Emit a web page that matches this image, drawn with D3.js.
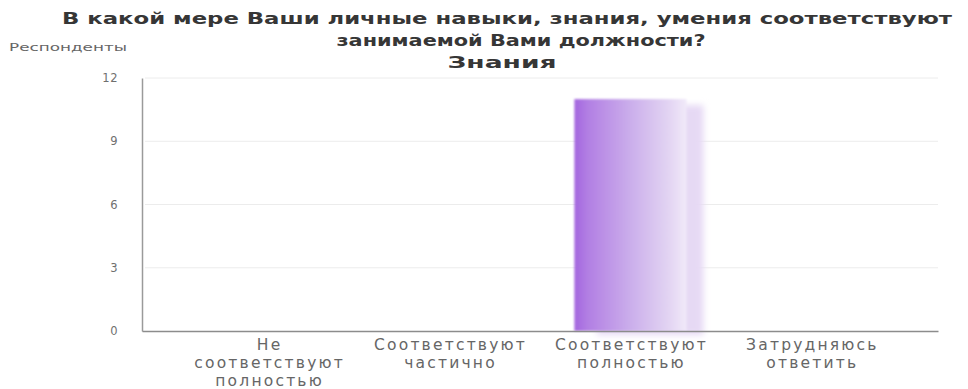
<!DOCTYPE html>
<html>
<head>
<meta charset="utf-8">
<script src="https://cdn.jsdelivr.net/npm/d3@7"></script>
<style>
  html, body { margin: 0; padding: 0; background: #fff; }
  svg { display: block; }
</style>
</head>
<body>
<svg id="chart" width="968" height="389"></svg>
<script>
// Survey answers: how well knowledge matches the current position
const categories = [
  ["Не", "соответствуют", "полностью"],
  ["Соответствуют", "частично"],
  ["Соответствуют", "полностью"],
  ["Затрудняюсь", "ответить"]
];
const values = [0, 0, 11, 0];
const yTicks = [0, 3, 6, 9, 12];
const titleLines = [
  "В какой мере Ваши личные навыки, знания, умения соответствуют",
  "занимаемой Вами должности?",
  "Знания"
];
const yAxisTitle = "Респонденты";

const svg = d3.select("#chart");
const margin = { left: 142, right: 30, top: 78, bottom: 58 };
const W = 968, H = 389;

const x = d3.scaleBand()
  .domain(d3.range(categories.length))
  .range([margin.left, W - margin.right])
  .paddingInner(0.38)
  .paddingOuter(0.39);

const y = d3.scaleLinear()
  .domain([0, 12])
  .range([H - margin.bottom, margin.top]);

const defs = svg.append("defs");
const grad = defs.append("linearGradient")
  .attr("id", "barGrad").attr("x1", "0").attr("x2", "1").attr("y1", "0").attr("y2", "0");
grad.append("stop").attr("offset", "0").attr("stop-color", "#a366df");
grad.append("stop").attr("offset", "0.12").attr("stop-color", "#b27fe3");
grad.append("stop").attr("offset", "0.5").attr("stop-color", "#cbaeeb");
grad.append("stop").attr("offset", "0.85").attr("stop-color", "#e3d5f3");
grad.append("stop").attr("offset", "1").attr("stop-color", "#f1eaf9");

const blur = defs.append("filter").attr("id", "soft")
  .attr("x", "-20%").attr("y", "-10%").attr("width", "140%").attr("height", "120%");
blur.append("feGaussianBlur").attr("stdDeviation", 3);

const blurSmall = defs.append("filter").attr("id", "edge")
  .attr("x", "-10%").attr("y", "-5%").attr("width", "120%").attr("height", "110%");
blurSmall.append("feGaussianBlur").attr("stdDeviation", 1.2);

// grid lines
svg.append("g")
  .selectAll("line")
  .data(yTicks.filter(d => d > 0))
  .join("line")
  .attr("x1", margin.left + 3)
  .attr("x2", W - margin.right)
  .attr("y1", d => y(d))
  .attr("y2", d => y(d))
  .attr("stroke", "#ececec")
  .attr("stroke-width", 1);

// y axis
const yAxis = d3.axisLeft(y).tickValues(yTicks).tickSize(0).tickPadding(24);
const gy = svg.append("g").attr("transform", `translate(${margin.left},0)`).call(yAxis);
gy.select(".domain").attr("stroke", "#9a9a9a").attr("stroke-width", 1.5);
gy.selectAll("text")
  .attr("fill", "#6f6f6f")
  .style("font-family", "'DejaVu Sans', sans-serif")
  .style("font-size", "11.5px")
  .style("letter-spacing", "0.5px");

// bar shadow
svg.append("g")
  .selectAll("rect")
  .data(values.map((v, i) => ({ v, i })).filter(d => d.v > 0))
  .join("rect")
  .attr("x", d => x(d.i) + x.bandwidth() * 0.2)
  .attr("y", d => y(d.v) + 6)
  .attr("width", x.bandwidth() * 0.95)
  .attr("height", d => y(0) - y(d.v) - 2)
  .attr("fill", "#e6d9f4")
  .attr("filter", "url(#soft)");

// bars
svg.append("g")
  .selectAll("rect")
  .data(values.map((v, i) => ({ v, i })).filter(d => d.v > 0))
  .join("rect")
  .attr("x", d => x(d.i))
  .attr("y", d => y(d.v))
  .attr("width", x.bandwidth())
  .attr("height", d => y(0) - y(d.v))
  .attr("fill", "url(#barGrad)")
  .attr("filter", "url(#edge)");

// x axis
const xAxis = d3.axisBottom(x).tickSize(0).tickFormat("");
const gx = svg.append("g").attr("transform", `translate(0,${y(0)})`).call(xAxis);
gx.select(".domain").attr("stroke", "#8c8c8c").attr("stroke-width", 1.5);

// category labels
const lab = svg.append("g")
  .style("font-family", "'DejaVu Sans', sans-serif")
  .style("font-size", "15.5px")
  .style("letter-spacing", "2.2px")
  .attr("fill", "#666");
categories.forEach((lines, i) => {
  const cx = x(i) + x.bandwidth() / 2 + 1;
  const t = lab.append("text")
    .attr("text-anchor", "middle")
    .attr("x", cx)
    .attr("y", y(0) + 19);
  lines.forEach((ln, k) => {
    t.append("tspan")
      .attr("x", cx)
      .attr("dy", k === 0 ? 0 : 18)
      .text(ln);
  });
});

// axis title
svg.append("text")
  .attr("x", 9).attr("y", 51)
  .style("font-family", "'DejaVu Sans', sans-serif")
  .style("font-size", "11px")
  .attr("fill", "#666")
  .attr("textLength", 118)
  .attr("lengthAdjust", "spacingAndGlyphs")
  .text(yAxisTitle);

// chart title
const titleWidths = [890, 369, 109];
const titleX = [507, 521, 502];
const titleY = [24, 46, 68];
const tg = svg.append("g")
  .style("font-family", "'DejaVu Sans', sans-serif")
  .style("font-weight", "bold")
  .style("font-size", "16px")
  .attr("fill", "#363636");
titleLines.forEach((ln, k) => {
  tg.append("text")
    .attr("x", titleX[k])
    .attr("y", titleY[k])
    .attr("text-anchor", "middle")
    .attr("textLength", titleWidths[k])
    .attr("lengthAdjust", "spacingAndGlyphs")
    .text(ln);
});
</script>
</body>
</html>
